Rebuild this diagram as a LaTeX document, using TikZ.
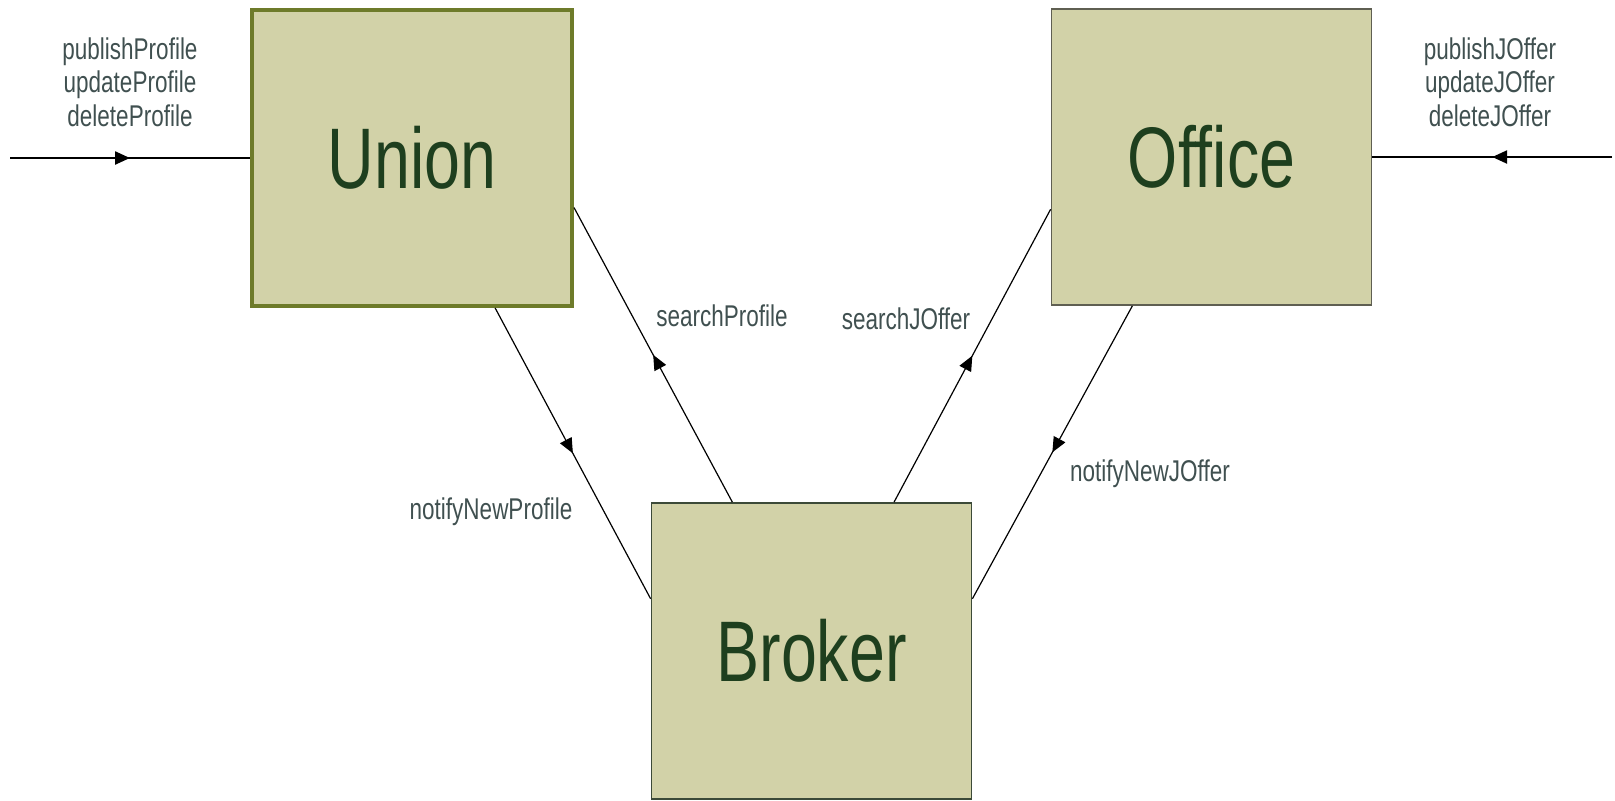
\documentclass[tikz,border=0pt]{standalone}
\usepackage{fontspec}
\setmainfont{Liberation Sans}[FakeStretch=0.75]
\usetikzlibrary{arrows.meta,decorations.markings}

\definecolor{boxfill}{RGB}{210,210,168}
\definecolor{unionline}{RGB}{110,123,42}
\definecolor{officeline}{RGB}{95,95,82}
\definecolor{brokerline}{RGB}{60,74,56}
\definecolor{titlegreen}{RGB}{30,63,30}
\definecolor{msggray}{RGB}{64,80,80}

\tikzset{
	box/.style={draw, rectangle, fill=boxfill, minimum width=160pt, minimum height=148pt, inner sep=0pt, text=titlegreen, font=\fontsize{43}{50}\selectfont},
	msg/.style={text=msggray, font=\fontsize{15}{16.75}\selectfont, align=center, inner sep=0pt},
	midarrow/.style={decoration={markings, mark=at position 0.5 with {\arrow{Triangle[length=7.5pt,width=6.5pt]}}}, postaction={decorate}},
}

\begin{document}
\begin{tikzpicture}[x=0.5pt, y=-0.5pt]
				\useasboundingbox (0,0) rectangle (1615,800);
				\node[box, draw=unionline, line width=2pt] (Union)at(412, 158) {Union};
				\node[box, draw=officeline, line width=0.9pt] (Office)at(1211.5, 157) {Office};
				\node[box, draw=brokerline, line width=0.9pt] (Broker)at(811.5, 651) {Broker};
				\coordinate (inL)at(10, 158);
				\coordinate (inR)at(1612, 157);
				\node[msg] (opsU)at(130, 82) {publishProfile\\updateProfile\\deleteProfile};
				\node[msg] (opsO)at(1490, 82) {publishJOffer\\updateJOffer\\deleteJOffer};
				\node[msg] (sP)at(722, 316) {searchProfile};
				\node[msg] (sJ)at(906, 319) {searchJOffer};
				\node[msg] (nP)at(491, 512) {notifyNewProfile};
				\node[msg] (nJ)at(1150, 474) {notifyNewJOffer};
				\draw[midarrow, line width=1.2pt] (inL) -- (Union.west);
				\draw[midarrow, line width=1.2pt] (inR) -- (Office.east);
				\draw[midarrow, line width=0.6pt] (Union.-61) -- (Broker.162);
				\draw[midarrow, line width=0.6pt] (Broker.118.5) -- (Union.-17);
				\draw[midarrow, line width=0.6pt] (Broker.61.5) -- (Office.198.5);
				\draw[midarrow, line width=0.6pt] (Office.-118.5) -- (Broker.18);
			\end{tikzpicture}
\end{document}
